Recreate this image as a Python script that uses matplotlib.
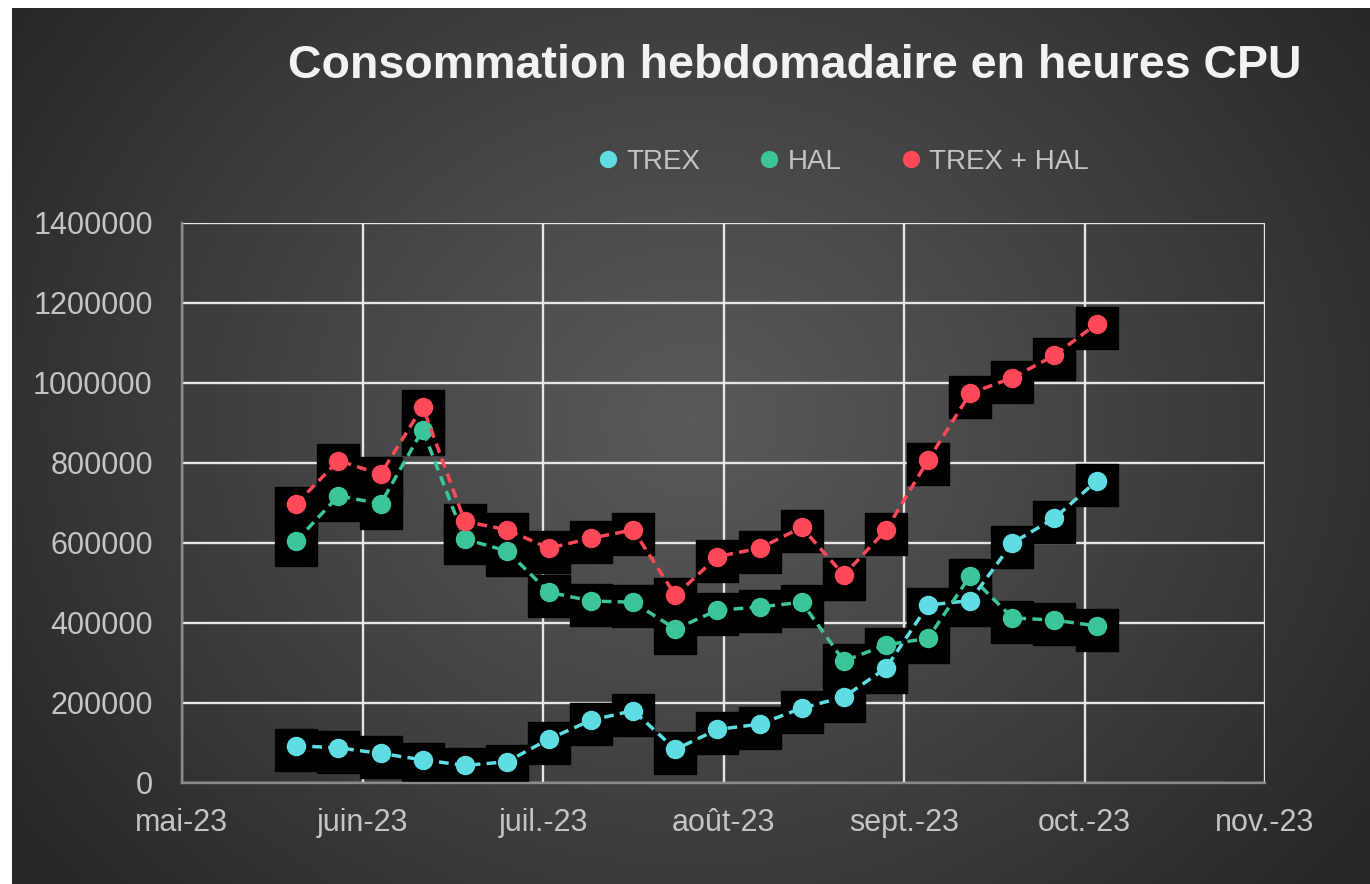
#!/usr/bin/env python3
"""Weekly CPU hours (TREX / HAL) on a dark Excel-like background."""

import matplotlib
matplotlib.use("Agg")
import matplotlib.pyplot as plt
import matplotlib.dates as mdates
import matplotlib.transforms as mtransforms
from matplotlib.lines import Line2D
import numpy as np
import pandas as pd

plt.rcParams["font.family"] = ["Liberation Sans", "DejaVu Sans"]

# data
WEEKS = pd.date_range("2023-05-20", periods=20, freq="7D")
TREX = [93000, 88000, 74000, 58000, 44000, 53000, 110000, 157000, 181000, 84000,
        134000, 147000, 187000, 215000, 287000, 445000, 456000, 600000, 662000, 755000]
HAL = [605000, 718000, 698000, 883000, 610000, 580000, 477000, 455000, 452000, 385000,
       432000, 440000, 452000, 305000, 345000, 362000, 518000, 413000, 407000, 393000]
TOTAL = [t + h for t, h in zip(TREX, HAL)]

MONTH_LABELS = ["mai-23", "juin-23", "juil.-23", "août-23", "sept.-23", "oct.-23", "nov.-23"]
Y_TICKS = [0, 200000, 400000, 600000, 800000, 1000000, 1200000, 1400000]

SERIES = [
    ("TREX", TREX, "#5fdde2"),
    ("HAL", HAL, "#3cc49a"),
    ("TREX + HAL", TOTAL, "#ff4858"),
]

W, H = 1370, 884
fig = plt.figure(figsize=(W / 100, H / 100), dpi=100)
fig.patch.set_facecolor("white")

# radial gradient background (white strip left/top as in the screenshot)
bg = fig.add_axes([12 / W, 0, 1 - 12 / W, 1 - 8 / H])
bg.set_axis_off()
yy, xx = np.mgrid[0:1:300j, 0:1:460j]
r = np.sqrt(((xx - 0.5) * 1.0) ** 2 + ((yy - 0.47) * 0.75) ** 2) / 0.62
r = np.clip(r, 0, 1)
shade = 0.35 - (0.35 - 0.15) * r ** 1.1
bg.imshow(np.dstack([shade, shade, shade]), aspect="auto", extent=[0, 1, 0, 1],
          interpolation="bicubic")

ax = fig.add_axes([182 / W, 1 - 783 / H, 1083 / W, 560 / H])
ax.set_facecolor("none")

x = mdates.date2num(WEEKS)
start = mdates.date2num(pd.Timestamp("2023-05-01"))
xticks = [start + 30 * k for k in range(len(MONTH_LABELS))]

shadow = mtransforms.offset_copy(ax.transData, fig=fig, x=0, y=-4, units="dots")
for name, vals, col in SERIES:
    ax.plot(x, vals, linestyle="none", marker="s", markersize=30.5,
            markerfacecolor="black", markeredgecolor="black", transform=shadow, zorder=2)
for name, vals, col in SERIES:
    ax.plot(x, vals, color=col, linewidth=2.5, linestyle=(0, (2.8, 1.8)),
            marker="o", markersize=13, markerfacecolor=col, markeredgecolor=col,
            zorder=3)

ax.set_xlim(xticks[0], xticks[-1])
ax.set_ylim(0, 1400000)
ax.set_xticks(xticks)
ax.set_xticklabels(MONTH_LABELS)
ax.set_yticks(Y_TICKS)
ax.set_yticklabels([str(v) for v in Y_TICKS])
ax.tick_params(axis="both", length=0, labelsize=22, colors="#c4c4c4")
ax.tick_params(axis="y", pad=21)
ax.tick_params(axis="x", pad=18)
ax.grid(True, color="#e6e6e6", linewidth=1.7, zorder=0)
ax.set_axisbelow(True)
for side in ("top", "right"):
    ax.spines[side].set_visible(False)
for side in ("left", "bottom"):
    ax.spines[side].set_color("#8a8a8a")
    ax.spines[side].set_linewidth(1.7)

fig.text(795 / W, 1 - 66 / H, "Consommation hebdomadaire en heures CPU",
         ha="center", va="center", fontsize=33.5, fontweight="bold", color="#f2f2f2")

handles = [Line2D([], [], linestyle="none", marker="o", markersize=11.5,
                  markerfacecolor=c, markeredgecolor=c) for _, _, c in SERIES]
fig.legend(handles, [n for n, _, _ in SERIES], loc="center",
           bbox_to_anchor=(844 / W, 1 - 162 / H), ncol=3, frameon=False,
           fontsize=20, labelcolor="#c4c4c4", handlelength=0.6, handletextpad=0.35,
           columnspacing=2.2)

fig.savefig("out.png", dpi=100)
